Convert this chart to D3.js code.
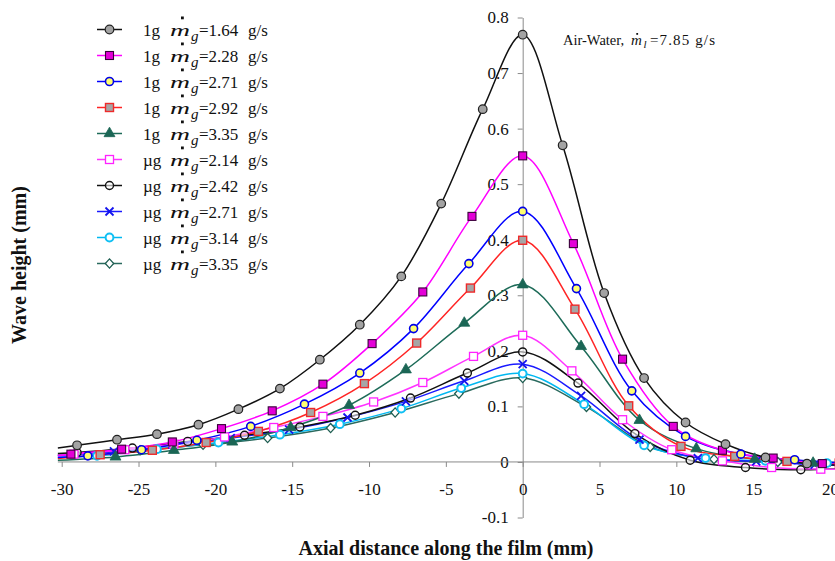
<!DOCTYPE html>
<html>
<head>
<meta charset="utf-8">
<script src="https://cdn.jsdelivr.net/npm/d3@7"></script>
<style>
  html, body { margin: 0; padding: 0; background: #fff; overflow: hidden; }
  text { font-family: "Liberation Serif", "Times New Roman", serif; fill: #111; }
</style>
</head>
<body>
<svg id="chart" width="835" height="561"></svg>
<script>
// ---- data -------------------------------------------------------------
const gravityLevels = ["1g", "1g", "1g", "1g", "1g", "µg", "µg", "µg", "µg", "µg"];
const gasFlowRates = ["1.64", "2.28", "2.71", "2.92", "3.35", "2.14", "2.42", "2.71", "3.14", "3.35"];

// axial positions (mm) of the measured points of each run
const axialPositions = [
  [-29.0, -26.4, -23.8, -21.1, -18.5, -15.8, -13.2, -10.6, -7.9, -5.3, -2.6, 0, 2.6, 5.3, 7.9, 10.6, 13.2, 15.8, 18.5],
  [-29.4, -26.1, -22.8, -19.6, -16.3, -13.0, -9.8, -6.5, -3.3, 0, 3.3, 6.5, 9.8, 13.0, 16.3, 19.5],
  [-28.3, -24.8, -21.2, -17.7, -14.2, -10.6, -7.1, -3.5, 0, 3.5, 7.1, 10.6, 14.2, 17.7],
  [-27.5, -24.1, -20.6, -17.2, -13.8, -10.3, -6.9, -3.4, 0, 3.4, 6.9, 10.3, 13.8, 17.2, 20.6],
  [-26.5, -22.7, -18.9, -15.1, -11.3, -7.6, -3.8, 0, 3.8, 7.6, 11.3, 15.1, 18.9],
  [-29.2, -25.9, -22.7, -19.4, -16.2, -13.0, -9.7, -6.5, -3.2, 0, 3.2, 6.5, 9.7, 13.0, 16.2, 19.4],
  [-29.0, -25.4, -21.8, -18.1, -14.5, -10.9, -7.3, -3.6, 0, 3.6, 7.3, 10.9, 14.5, 18.1],
  [-26.6, -22.8, -19.0, -15.2, -11.4, -7.6, -3.8, 0, 3.8, 7.6, 11.4, 15.2, 19.0],
  [-27.7, -23.8, -19.8, -15.8, -11.9, -7.9, -4.0, 0, 4.0, 7.9, 11.9, 15.8, 19.8],
  [-29.1, -24.9, -20.8, -16.6, -12.5, -8.3, -4.15, 0, 4.15, 8.3, 12.45, 16.6, 20.75]
];

// wave heights (mm) at those positions
const waveHeights = [
  [0.030, 0.040, 0.050, 0.067, 0.095, 0.132, 0.184, 0.247, 0.334, 0.465, 0.635, 0.769, 0.570, 0.304, 0.151, 0.071, 0.032, 0.008, -0.003],
  [0.014, 0.023, 0.036, 0.060, 0.092, 0.140, 0.213, 0.306, 0.442, 0.551, 0.393, 0.185, 0.064, 0.021, 0.007, -0.003],
  [0.011, 0.022, 0.039, 0.064, 0.104, 0.160, 0.240, 0.357, 0.451, 0.312, 0.128, 0.046, 0.014, 0.004],
  [0.013, 0.021, 0.035, 0.055, 0.089, 0.141, 0.214, 0.313, 0.399, 0.275, 0.101, 0.028, 0.010, 0.001, -0.002],
  [0.009, 0.021, 0.036, 0.062, 0.102, 0.166, 0.250, 0.319, 0.208, 0.075, 0.024, 0.005, -0.002],
  [0.014, 0.022, 0.032, 0.045, 0.062, 0.082, 0.108, 0.143, 0.190, 0.228, 0.164, 0.076, 0.022, 0.002, -0.010, -0.013],
  [0.017, 0.025, 0.037, 0.048, 0.063, 0.084, 0.115, 0.160, 0.198, 0.142, 0.051, 0.003, -0.010, -0.014],
  [0.019, 0.031, 0.043, 0.058, 0.080, 0.109, 0.146, 0.176, 0.119, 0.040, 0.007, 0.001, -0.005],
  [0.011, 0.023, 0.035, 0.049, 0.068, 0.096, 0.133, 0.159, 0.104, 0.030, 0.007, 0.002, -0.002],
  [0.015, 0.021, 0.031, 0.043, 0.061, 0.089, 0.123, 0.151, 0.099, 0.027, 0.005, 0.000, -0.002]
];

// fitted curve values at the two ends of the plotted range
const curveRange = [-30.25, 21];
const curveStartHeights = [0.025, 0.011, 0.008, 0.006, 0.003, 0.012, 0.015, 0.011, 0.008, 0.013];
const curveEndHeights = [-0.006, -0.005, -0.002, -0.002, -0.003, -0.013, -0.012, -0.006, -0.003, -0.001];

const xTicks = [-30, -25, -20, -15, -10, -5, 0, 5, 10, 15, 20];
const yTicks = [-0.1, 0, 0.1, 0.2, 0.3, 0.4, 0.5, 0.6, 0.7, 0.8];
const liquidFlowRate = "7.85";

// ---- appearance ---------------------------------------------------------
const lineColors = ["#111111", "#ff00ff", "#0000ff", "#ff2424", "#1d6b58",
                    "#ff33ff", "#111111", "#1a1aff", "#00b8f0", "#2a6a5e"];
const markerTypes = ["circleGray", "squareFilled", "circleYellow", "squareGray", "triangle",
                     "squareOpen", "circleOpen", "cross", "circleCyan", "diamond"];

const svg = d3.select("#chart");
const x = d3.scaleLinear().domain([-30, 20]).range([61.7, 830]);
const y = d3.scaleLinear().domain([-0.1, 0.8]).range([517.5, 17.5]);

function drawMarker(g, type, cx, cy) {
  switch (type) {
    case "circleGray":
      g.append("circle").attr("cx", cx).attr("cy", cy).attr("r", 4.3)
        .attr("fill", "#a3a3a3").attr("stroke", "#222").attr("stroke-width", 1.2); break;
    case "squareFilled":
      g.append("rect").attr("x", cx - 4).attr("y", cy - 4).attr("width", 8).attr("height", 8)
        .attr("fill", "#e400d8").attr("stroke", "#3a003a").attr("stroke-width", 1.1); break;
    case "circleYellow":
      g.append("circle").attr("cx", cx).attr("cy", cy).attr("r", 4)
        .attr("fill", "#ffff70").attr("stroke", "#0000e8").attr("stroke-width", 1.6); break;
    case "squareGray":
      g.append("rect").attr("x", cx - 4).attr("y", cy - 4).attr("width", 8).attr("height", 8)
        .attr("fill", "#a6a6a6").attr("stroke", "#ee2a2a").attr("stroke-width", 1.4); break;
    case "triangle":
      g.append("path").attr("transform", `translate(${cx},${cy})`)
        .attr("d", d3.symbol(d3.symbolTriangle, 52)())
        .attr("fill", "#1b6655").attr("stroke", "#1b6655").attr("stroke-width", 0.8); break;
    case "squareOpen":
      g.append("rect").attr("x", cx - 4).attr("y", cy - 4).attr("width", 8).attr("height", 8)
        .attr("fill", "#fff").attr("stroke", "#ff22ff").attr("stroke-width", 1.3); break;
    case "circleOpen":
      g.append("circle").attr("cx", cx).attr("cy", cy).attr("r", 4)
        .attr("fill", "#fff").attr("fill-opacity", 0.6).attr("stroke", "#111").attr("stroke-width", 1.4); break;
    case "cross":
      g.append("path")
        .attr("d", `M${cx - 4},${cy - 4}L${cx + 4},${cy + 4}M${cx - 4},${cy + 4}L${cx + 4},${cy - 4}`)
        .attr("fill", "none").attr("stroke", "#1414ee").attr("stroke-width", 1.8); break;
    case "circleCyan":
      g.append("circle").attr("cx", cx).attr("cy", cy).attr("r", 3.9)
        .attr("fill", "#fff").attr("stroke", "#10c0f4").attr("stroke-width", 2); break;
    case "diamond":
      g.append("path")
        .attr("d", `M${cx},${cy - 4.6}L${cx + 4.2},${cy}L${cx},${cy + 4.6}L${cx - 4.2},${cy}Z`)
        .attr("fill", "#fff").attr("stroke", "#1f5e52").attr("stroke-width", 1.3); break;
  }
}

// ---- axes ----------------------------------------------------------------
const axisColor = "#8a8a8a";
const fmtY = d => d === 0 ? "0" : d3.format(".1f")(d).replace("−", "-");
const fmtX = d => String(d);

const yAxis = svg.append("g").attr("transform", `translate(${x(0)},0)`)
  .call(d3.axisLeft(y).tickValues(yTicks).tickSize(5).tickSizeOuter(0).tickPadding(9).tickFormat(fmtY));
const xAxis = svg.append("g").attr("transform", `translate(0,${y(0)})`)
  .call(d3.axisBottom(x).tickValues(xTicks).tickSize(5).tickSizeOuter(0).tickPadding(15.5).tickFormat(fmtX));
xAxis.select(".domain").remove();
xAxis.append("line").attr("x1", x(curveRange[0])).attr("x2", x(curveRange[1]))
  .attr("stroke", axisColor).attr("stroke-width", 1);
[xAxis, yAxis].forEach(a => {
  a.attr("font-family", null);
  a.selectAll(".domain").attr("stroke", axisColor);
  a.selectAll(".tick line").attr("stroke", axisColor);
  a.selectAll(".tick text").attr("font-size", 17).attr("font-family", "Liberation Serif").attr("fill", "#111");
});

// ---- curves and points ------------------------------------------------------
const curveGen = d3.line().x(d => x(d[0])).y(d => y(d[1])).curve(d3.curveCatmullRom.alpha(0.5));
const plot = svg.append("g");
const order = [9, 8, 7, 6, 5, 4, 3, 2, 1, 0];
order.forEach(i => {
  const pts = axialPositions[i].map((v, k) => [v, waveHeights[i][k]]);
  const linePts = [[curveRange[0], curveStartHeights[i]], ...pts, [curveRange[1], curveEndHeights[i]]];
  plot.append("path").attr("d", curveGen(linePts))
    .attr("fill", "none").attr("stroke", lineColors[i]).attr("stroke-width", 1.5);
});
order.forEach(i => {
  const g = plot.append("g");
  axialPositions[i].forEach((v, k) => drawMarker(g, markerTypes[i], x(v), y(waveHeights[i][k])));
});

// ---- legend ----------------------------------------------------------------
const legend = svg.append("g");
gravityLevels.forEach((lvl, i) => {
  const cy = 29.5 + 26 * i;
  legend.append("line").attr("x1", 97).attr("x2", 122).attr("y1", cy).attr("y2", cy)
    .attr("stroke", lineColors[i]).attr("stroke-width", 1.5);
  drawMarker(legend, markerTypes[i], 109.5, cy);
  legend.append("text").attr("x", 143).attr("y", cy + 6).attr("font-size", 17).text(lvl);
  legend.append("text").attr("x", 170).attr("y", cy + 6).attr("font-size", 17)
    .attr("font-style", "italic").attr("textLength", 20).attr("lengthAdjust", "spacingAndGlyphs").text("m");
  legend.append("rect").attr("x", 181).attr("y", cy - 13).attr("width", 2.8).attr("height", 2.8).attr("fill", "#111");
  legend.append("text").attr("x", 191).attr("y", cy + 11.5).attr("font-size", 15)
    .attr("font-style", "italic").text("g");
  legend.append("text").attr("x", 199).attr("y", cy + 6).attr("font-size", 17).text("=" + gasFlowRates[i]);
  legend.append("text").attr("x", 248).attr("y", cy + 6).attr("font-size", 17).text("g/s");
});

// ---- annotation ---------------------------------------------------------------
const note = svg.append("g");
note.append("text").attr("x", 563).attr("y", 45).attr("font-size", 14.5).text("Air-Water,");
note.append("text").attr("x", 631).attr("y", 45).attr("font-size", 15).attr("font-style", "italic").text("m");
note.append("rect").attr("x", 636.3).attr("y", 33).attr("width", 1.8).attr("height", 1.8).attr("fill", "#111");
note.append("text").attr("x", 643.5).attr("y", 48).attr("font-size", 11).attr("font-style", "italic").text("l");
note.append("text").attr("x", 650).attr("y", 45).attr("font-size", 15)
  .attr("textLength", 65).attr("lengthAdjust", "spacing").text("=" + liquidFlowRate + " g/s");

// ---- axis titles ----------------------------------------------------------------
svg.append("text").attr("x", 446).attr("y", 555).attr("text-anchor", "middle")
  .attr("font-size", 20).attr("font-weight", "bold").text("Axial distance along the film (mm)");
svg.append("text").attr("transform", "translate(26,265) rotate(-90)").attr("text-anchor", "middle")
  .attr("font-size", 20).attr("font-weight", "bold").text("Wave height (mm)");
</script>
</body>
</html>
